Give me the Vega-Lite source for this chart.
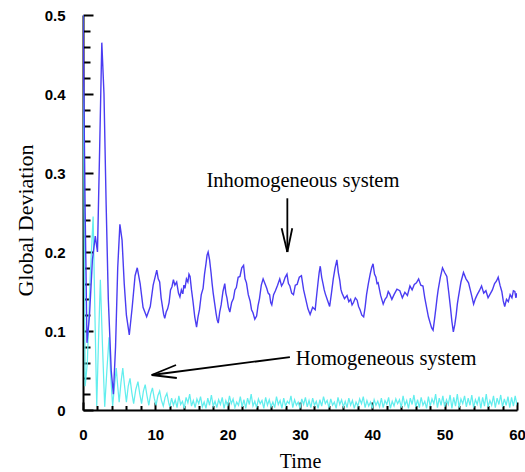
{
  "$schema": "https://vega.github.io/schema/vega-lite/v6.json",
  "width": 434,
  "height": 395,
  "autosize": "none",
  "padding": {"left": 83, "top": 15, "right": 8, "bottom": 62},
  "background": "white",
  "config": {"view": {"stroke": null}, "axis": {"grid": false}},
  "datasets": {
    "homog": [
      {"t":0,"v":0.5},{"t":0.15,"v":0.25},{"t":0.3,"v":0.03},{"t":0.6,"v":0.06},{"t":1.0,"v":0.17},{"t":1.4,"v":0.245},{"t":1.65,"v":0.12},{"t":1.9,"v":0.005},{"t":2.15,"v":0.09},{"t":2.4,"v":0.165},{"t":2.7,"v":0.08},{"t":3.0,"v":0.004},{"t":3.3,"v":0.05},{"t":3.6,"v":0.092},{"t":3.85,"v":0.04},{"t":4.1,"v":0.005},{"t":4.35,"v":0.03},{"t":4.6,"v":0.053},{"t":4.8,"v":0.03},{"t":5.0,"v":0.01},{"t":5.25,"v":0.035},{"t":5.5,"v":0.053},{"t":5.75,"v":0.03},{"t":6.0,"v":0.01},{"t":6.25,"v":0.03},{"t":6.5,"v":0.04},{"t":6.75,"v":0.022},{"t":7.0,"v":0.008},{"t":7.3,"v":0.026},{"t":7.6,"v":0.036},{"t":7.85,"v":0.02},{"t":8.1,"v":0.008},{"t":8.35,"v":0.024},{"t":8.6,"v":0.032},{"t":8.85,"v":0.018},{"t":9.1,"v":0.006},{"t":9.35,"v":0.02},{"t":9.6,"v":0.028},{"t":9.85,"v":0.015},{"t":10.1,"v":0.006},{"t":10.35,"v":0.018},{"t":10.6,"v":0.024},{"t":10.85,"v":0.012},{"t":11.1,"v":0.005},{"t":11.35,"v":0.016},{"t":11.6,"v":0.021},{"t":11.85,"v":0.009},
      {"t":12.0,"v":0.004},{"t":12.25,"v":0.015},{"t":12.5,"v":0.006},{"t":12.75,"v":0.013},{"t":13.0,"v":0.003},{"t":13.25,"v":0.018},{"t":13.5,"v":0.007},{"t":13.75,"v":0.011},{"t":14.0,"v":0.002},{"t":14.25,"v":0.016},{"t":14.5,"v":0.009},{"t":14.75,"v":0.02},{"t":15.0,"v":0.005},{"t":15.25,"v":0.012},{"t":15.5,"v":0.003},{"t":15.75,"v":0.014},{"t":16.0,"v":0.008},{"t":16.25,"v":0.017},{"t":16.5,"v":0.004},{"t":16.75,"v":0.01},{"t":17.0,"v":0.002},{"t":17.25,"v":0.015},{"t":17.5,"v":0.006},{"t":17.75,"v":0.019},{"t":18.0,"v":0.005},{"t":18.25,"v":0.011},{"t":18.5,"v":0.003},{"t":18.75,"v":0.013},{"t":19.0,"v":0.007},{"t":19.25,"v":0.016},{"t":19.5,"v":0.002},{"t":19.75,"v":0.012},{"t":20.0,"v":0.005},{"t":20.25,"v":0.018},{"t":20.5,"v":0.008},{"t":20.75,"v":0.014},{"t":21.0,"v":0.003},{"t":21.25,"v":0.01},{"t":21.5,"v":0.006},{"t":21.75,"v":0.017},{"t":22.0,"v":0.004},{"t":22.25,"v":0.013},{"t":22.5,"v":0.002},{"t":22.75,"v":0.015},{"t":23.0,"v":0.007},{"t":23.25,"v":0.02},{"t":23.5,"v":0.005},{"t":23.75,"v":0.011},{"t":24.0,"v":0.003},{"t":24.25,"v":0.014},{"t":24.5,"v":0.008},{"t":24.75,"v":0.012},{"t":25.0,"v":0.002},{"t":25.25,"v":0.016},{"t":25.5,"v":0.006},{"t":25.75,"v":0.013},{"t":26.0,"v":0.004},{"t":26.25,"v":0.01},{"t":26.5,"v":0.003},{"t":26.75,"v":0.017},{"t":27.0,"v":0.007},{"t":27.25,"v":0.012},{"t":27.5,"v":0.002},{"t":27.75,"v":0.015},{"t":28.0,"v":0.005},{"t":28.25,"v":0.011},{"t":28.5,"v":0.008},{"t":28.75,"v":0.018},{"t":29.0,"v":0.003},{"t":29.25,"v":0.013},{"t":29.5,"v":0.006},{"t":29.75,"v":0.01},{"t":30.0,"v":0.002},{"t":30.25,"v":0.014},{"t":30.5,"v":0.007},{"t":30.75,"v":0.016},{"t":31.0,"v":0.004},{"t":31.25,"v":0.012},{"t":31.5,"v":0.003},{"t":31.75,"v":0.015},{"t":32.0,"v":0.006},{"t":32.25,"v":0.011},{"t":32.5,"v":0.002},{"t":32.75,"v":0.013},{"t":33.0,"v":0.005},{"t":33.25,"v":0.017},{"t":33.5,"v":0.008},{"t":33.75,"v":0.012},{"t":34.0,"v":0.003},{"t":34.25,"v":0.014},{"t":34.5,"v":0.006},{"t":34.75,"v":0.01},{"t":35.0,"v":0.002},{"t":35.25,"v":0.016},{"t":35.5,"v":0.007},{"t":35.75,"v":0.013},{"t":36.0,"v":0.004},{"t":36.25,"v":0.011},{"t":36.5,"v":0.003},{"t":36.75,"v":0.015},{"t":37.0,"v":0.006},{"t":37.25,"v":0.012},{"t":37.5,"v":0.002},{"t":37.75,"v":0.01},{"t":38.0,"v":0.005},{"t":38.25,"v":0.014},{"t":38.5,"v":0.008},{"t":38.75,"v":0.017},{"t":39.0,"v":0.003},{"t":39.25,"v":0.012},{"t":39.5,"v":0.005},{"t":39.75,"v":0.01},{"t":40.0,"v":0.002},{"t":40.25,"v":0.013},{"t":40.5,"v":0.006},{"t":40.75,"v":0.011},{"t":41.0,"v":0.004},{"t":41.25,"v":0.015},{"t":41.5,"v":0.003},{"t":41.75,"v":0.012},{"t":42.0,"v":0.007},{"t":42.25,"v":0.016},{"t":42.5,"v":0.002},{"t":42.75,"v":0.011},{"t":43.0,"v":0.005},{"t":43.25,"v":0.014},{"t":43.5,"v":0.008},{"t":43.75,"v":0.013},{"t":44.0,"v":0.003},{"t":44.25,"v":0.018},{"t":44.5,"v":0.006},{"t":44.75,"v":0.012},{"t":45.0,"v":0.002},{"t":45.25,"v":0.015},{"t":45.5,"v":0.007},{"t":45.75,"v":0.019},{"t":46.0,"v":0.004},{"t":46.25,"v":0.013},{"t":46.5,"v":0.003},{"t":46.75,"v":0.016},{"t":47.0,"v":0.006},{"t":47.25,"v":0.011},{"t":47.5,"v":0.002},{"t":47.75,"v":0.017},{"t":48.0,"v":0.005},{"t":48.25,"v":0.014},{"t":48.5,"v":0.008},{"t":48.75,"v":0.02},{"t":49.0,"v":0.003},{"t":49.25,"v":0.015},{"t":49.5,"v":0.006},{"t":49.75,"v":0.018},{"t":50.0,"v":0.004},{"t":50.25,"v":0.013},{"t":50.5,"v":0.007},{"t":50.75,"v":0.019},{"t":51.0,"v":0.002},{"t":51.25,"v":0.016},{"t":51.5,"v":0.005},{"t":51.75,"v":0.02},{"t":52.0,"v":0.003},{"t":52.25,"v":0.014},{"t":52.5,"v":0.008},{"t":52.75,"v":0.018},{"t":53.0,"v":0.004},{"t":53.25,"v":0.015},{"t":53.5,"v":0.006},{"t":53.75,"v":0.019},{"t":54.0,"v":0.003},{"t":54.25,"v":0.013},{"t":54.5,"v":0.007},{"t":54.75,"v":0.017},{"t":55.0,"v":0.002},{"t":55.25,"v":0.016},{"t":55.5,"v":0.005},{"t":55.75,"v":0.02},{"t":56.0,"v":0.004},{"t":56.25,"v":0.012},{"t":56.5,"v":0.006},{"t":56.75,"v":0.018},{"t":57.0,"v":0.003},{"t":57.25,"v":0.015},{"t":57.5,"v":0.007},{"t":57.75,"v":0.019},{"t":58.0,"v":0.004},{"t":58.25,"v":0.014},{"t":58.5,"v":0.006},{"t":58.75,"v":0.017},{"t":59.0,"v":0.003},{"t":59.25,"v":0.016},{"t":59.5,"v":0.005},{"t":59.75,"v":0.018},{"t":60.0,"v":0.006}
    ],
    "inhomog": [
      {"t":0,"v":0.5},{"t":0.3,"v":0.25},{"t":0.55,"v":0.085},{"t":0.9,"v":0.12},{"t":1.3,"v":0.19},{"t":1.7,"v":0.22},{"t":2.0,"v":0.2},{"t":2.3,"v":0.33},{"t":2.6,"v":0.465},{"t":2.9,"v":0.4},{"t":3.2,"v":0.26},{"t":3.5,"v":0.14},{"t":3.9,"v":0.05},{"t":4.2,"v":0.02},{"t":4.5,"v":0.08},{"t":4.8,"v":0.18},{"t":5.1,"v":0.235},{"t":5.4,"v":0.215},{"t":5.7,"v":0.16},{"t":6.0,"v":0.12},{"t":6.4,"v":0.095},{"t":6.8,"v":0.13},{"t":7.2,"v":0.17},{"t":7.5,"v":0.18},{"t":7.9,"v":0.16},{"t":8.3,"v":0.13},{"t":8.8,"v":0.118},{"t":9.3,"v":0.131},{"t":9.7,"v":0.158},{"t":10.2,"v":0.177},
      {"t":10.4,"v":0.166},{"t":10.6,"v":0.162},{"t":10.8,"v":0.142},{"t":11.0,"v":0.13},{"t":11.15,"v":0.121},{"t":11.3,"v":0.116},{"t":11.5,"v":0.124},{"t":11.7,"v":0.128},{"t":11.9,"v":0.136},{"t":12.1,"v":0.152},{"t":12.3,"v":0.156},{"t":12.5,"v":0.165},{"t":12.7,"v":0.158},{"t":12.95,"v":0.162},{"t":13.2,"v":0.148},{"t":13.4,"v":0.143},{"t":13.6,"v":0.152},{"t":13.8,"v":0.147},{"t":13.95,"v":0.158},{"t":14.1,"v":0.154},{"t":14.3,"v":0.166},{"t":14.5,"v":0.162},{"t":14.65,"v":0.172},{"t":14.8,"v":0.169},{"t":15.0,"v":0.152},{"t":15.2,"v":0.138},{"t":15.45,"v":0.118},{"t":15.7,"v":0.105},{"t":15.9,"v":0.118},{"t":16.1,"v":0.127},{"t":16.35,"v":0.146},{"t":16.6,"v":0.154},{"t":16.8,"v":0.172},{"t":17.0,"v":0.185},{"t":17.15,"v":0.196},{"t":17.3,"v":0.2},{"t":17.5,"v":0.19},{"t":17.7,"v":0.174},{"t":17.85,"v":0.16},{"t":18.0,"v":0.148},{"t":18.2,"v":0.135},{"t":18.4,"v":0.122},{"t":18.55,"v":0.114},{"t":18.7,"v":0.11},{"t":18.9,"v":0.124},{"t":19.1,"v":0.133},{"t":19.35,"v":0.15},{"t":19.6,"v":0.16},{"t":19.75,"v":0.148},{"t":19.9,"v":0.142},{"t":20.1,"v":0.13},{"t":20.3,"v":0.124},{"t":20.55,"v":0.136},{"t":20.8,"v":0.141},{"t":21.0,"v":0.152},{"t":21.2,"v":0.155},{"t":21.45,"v":0.168},{"t":21.7,"v":0.169},{"t":21.95,"v":0.18},{"t":22.2,"v":0.183},{"t":22.4,"v":0.166},{"t":22.6,"v":0.161},{"t":22.85,"v":0.146},{"t":23.1,"v":0.138},{"t":23.3,"v":0.127},{"t":23.5,"v":0.123},{"t":23.75,"v":0.115},{"t":24.0,"v":0.119},{"t":24.2,"v":0.132},{"t":24.4,"v":0.141},{"t":24.65,"v":0.158},{"t":24.9,"v":0.166},{"t":25.15,"v":0.16},{"t":25.4,"v":0.154},{"t":25.6,"v":0.148},{"t":25.8,"v":0.146},{"t":25.95,"v":0.136},{"t":26.1,"v":0.133},{"t":26.35,"v":0.146},{"t":26.6,"v":0.151},{"t":26.9,"v":0.158},{"t":27.2,"v":0.166},{"t":27.45,"v":0.157},{"t":27.7,"v":0.161},{"t":27.95,"v":0.168},{"t":28.2,"v":0.172},{"t":28.4,"v":0.16},{"t":28.6,"v":0.157},{"t":28.85,"v":0.148},{"t":29.1,"v":0.146},{"t":29.35,"v":0.158},{"t":29.6,"v":0.159},{"t":29.9,"v":0.168},{"t":30.2,"v":0.17},{"t":30.5,"v":0.152},{"t":30.8,"v":0.14},{"t":31.1,"v":0.128},{"t":31.4,"v":0.121},{"t":31.75,"v":0.13},{"t":32.1,"v":0.127},{"t":32.3,"v":0.145},{"t":32.5,"v":0.162},{"t":32.65,"v":0.174},{"t":32.8,"v":0.182},{"t":33.0,"v":0.168},{"t":33.2,"v":0.159},{"t":33.35,"v":0.152},{"t":33.5,"v":0.147},{"t":33.8,"v":0.139},{"t":34.1,"v":0.131},{"t":34.35,"v":0.148},{"t":34.6,"v":0.166},{"t":34.85,"v":0.18},{"t":35.1,"v":0.19},{"t":35.3,"v":0.174},{"t":35.5,"v":0.164},{"t":35.65,"v":0.153},{"t":35.8,"v":0.148},{"t":36.15,"v":0.141},{"t":36.5,"v":0.145},{"t":36.75,"v":0.137},{"t":37.0,"v":0.14},{"t":37.2,"v":0.133},{"t":37.4,"v":0.136},{"t":37.65,"v":0.142},{"t":37.9,"v":0.139},{"t":38.1,"v":0.131},{"t":38.3,"v":0.127},{"t":38.55,"v":0.12},{"t":38.8,"v":0.118},{"t":39.0,"v":0.13},{"t":39.2,"v":0.146},{"t":39.45,"v":0.16},{"t":39.7,"v":0.172},{"t":39.9,"v":0.18},{"t":40.1,"v":0.185},{"t":40.3,"v":0.172},{"t":40.5,"v":0.168},{"t":40.65,"v":0.16},{"t":40.8,"v":0.161},{"t":41.15,"v":0.145},{"t":41.5,"v":0.134},{"t":41.75,"v":0.14},{"t":42.0,"v":0.143},{"t":42.2,"v":0.15},{"t":42.4,"v":0.147},{"t":42.7,"v":0.14},{"t":43.0,"v":0.146},{"t":43.4,"v":0.153},{"t":43.8,"v":0.151},{"t":44.15,"v":0.142},{"t":44.5,"v":0.149},{"t":44.85,"v":0.145},{"t":45.2,"v":0.157},{"t":45.5,"v":0.152},{"t":45.8,"v":0.159},{"t":46.1,"v":0.161},{"t":46.4,"v":0.166},{"t":46.7,"v":0.158},{"t":47.0,"v":0.157},{"t":47.25,"v":0.142},{"t":47.5,"v":0.13},{"t":47.75,"v":0.118},{"t":48.0,"v":0.11},{"t":48.2,"v":0.104},{"t":48.4,"v":0.101},{"t":48.6,"v":0.115},{"t":48.8,"v":0.13},{"t":48.95,"v":0.142},{"t":49.1,"v":0.152},{"t":49.4,"v":0.168},{"t":49.7,"v":0.18},{"t":50.0,"v":0.174},{"t":50.3,"v":0.169},{"t":50.55,"v":0.15},{"t":50.8,"v":0.13},{"t":51.0,"v":0.112},{"t":51.2,"v":0.099},{"t":51.4,"v":0.108},{"t":51.6,"v":0.121},{"t":51.75,"v":0.134},{"t":51.9,"v":0.143},{"t":52.25,"v":0.162},{"t":52.6,"v":0.174},{"t":52.95,"v":0.166},{"t":53.3,"v":0.161},{"t":53.65,"v":0.148},{"t":54.0,"v":0.134},{"t":54.25,"v":0.141},{"t":54.5,"v":0.146},{"t":54.8,"v":0.151},{"t":55.1,"v":0.157},{"t":55.4,"v":0.148},{"t":55.7,"v":0.151},{"t":56.0,"v":0.142},{"t":56.3,"v":0.147},{"t":56.6,"v":0.152},{"t":56.9,"v":0.16},{"t":57.15,"v":0.163},{"t":57.4,"v":0.168},{"t":57.65,"v":0.158},{"t":57.9,"v":0.15},{"t":58.1,"v":0.138},{"t":58.3,"v":0.131},{"t":58.55,"v":0.14},{"t":58.8,"v":0.137},{"t":59.05,"v":0.146},{"t":59.3,"v":0.142},{"t":59.5,"v":0.151},{"t":59.7,"v":0.15},{"t":59.85,"v":0.142},{"t":60,"v":0.148}
    ],
    "arrows": [
      {"t":28.25,"v":0.268,"t2":28.25,"v2":0.2},
      {"t":27.46,"v":0.23,"t2":28.25,"v2":0.2},
      {"t":28.93,"v":0.23,"t2":28.25,"v2":0.2},
      {"t":28.6,"v":0.067,"t2":9.5,"v2":0.0443},
      {"t":12.86,"v":0.057,"t2":9.5,"v2":0.0443},
      {"t":12.97,"v":0.0405,"t2":9.5,"v2":0.0443}
    ],
    "labels": [
      {"t":30.4,"v":0.282,"text":"Inhomogeneous system"},
      {"t":41.9,"v":0.057,"text":"Homogeneous system"}
    ]
  },
  "resolve": {"axis": {"x": "independent", "y": "independent"}},
  "layer": [
    {
      "data": {"name": "homog"},
      "mark": {"type": "line", "color": "#62eeee", "strokeWidth": 1.25, "clip": true},
      "encoding": {
        "x": {"field": "t", "type": "quantitative", "scale": {"domain": [0, 60], "nice": false},
          "axis": {"orient": "bottom", "values": [2,4,6,8,12,14,16,18,22,24,26,28,32,34,36,38,42,44,46,48,52,54,56,58], "tickSize": -4.5, "tickWidth": 2, "tickColor": "black", "labels": false, "domain": false, "title": null}},
        "y": {"field": "v", "type": "quantitative", "scale": {"domain": [0, 0.5], "nice": false},
          "axis": {"orient": "left", "values": [0.02,0.04,0.06,0.08,0.12,0.14,0.16,0.18,0.22,0.24,0.26,0.28,0.32,0.34,0.36,0.38,0.42,0.44,0.46,0.48], "tickSize": -7, "tickWidth": 2, "tickColor": "black", "labels": false, "domain": false, "title": null}}
      }
    },
    {
      "data": {"name": "inhomog"},
      "mark": {"type": "line", "color": "#4a3cf2", "strokeWidth": 1.4, "clip": true},
      "encoding": {
        "x": {"field": "t", "type": "quantitative",
          "axis": {"orient": "bottom", "values": [0,10,20,30,40,50,60], "tickSize": -8, "tickWidth": 2, "tickColor": "black", "domainColor": "black", "domainWidth": 2, "labelFont": "Liberation Sans", "labelFontSize": 15, "labelFontWeight": "bold", "labelColor": "black", "labelPadding": 25, "labelFlush": false, "title": "Time", "titleFont": "Liberation Serif", "titleFontSize": 20, "titleFontWeight": "normal", "titleColor": "black", "titleX": 217, "titleY": 57, "titleBaseline": "alphabetic", "titleAlign": "center"}},
        "y": {"field": "v", "type": "quantitative",
          "axis": {"orient": "left", "values": [0,0.1,0.2,0.3,0.4,0.5], "format": ".1~f", "tickSize": -10, "tickWidth": 2, "tickColor": "black", "domainColor": "black", "domainWidth": 2, "labelFont": "Liberation Sans", "labelFontSize": 15, "labelFontWeight": "bold", "labelColor": "black", "labelPadding": 28, "labelFlush": false, "title": "Global Deviation", "titleFont": "Liberation Serif", "titleFontSize": 22, "titleFontWeight": "normal", "titleColor": "black", "titleX": -51, "titleY": 205, "titleAngle": -90, "titleBaseline": "alphabetic", "titleAlign": "center"}}
      }
    },
    {
      "data": {"name": "arrows"},
      "mark": {"type": "rule", "color": "black", "strokeWidth": 1.8},
      "encoding": {
        "x": {"field": "t", "type": "quantitative", "axis": null},
        "y": {"field": "v", "type": "quantitative", "axis": null},
        "x2": {"field": "t2"},
        "y2": {"field": "v2"}
      }
    },
    {
      "data": {"name": "labels"},
      "mark": {"type": "text", "font": "Liberation Serif", "fontSize": 20.5, "color": "black", "baseline": "alphabetic", "align": "center"},
      "encoding": {
        "x": {"field": "t", "type": "quantitative", "axis": null},
        "y": {"field": "v", "type": "quantitative", "axis": null},
        "text": {"field": "text"}
      }
    }
  ]
}
